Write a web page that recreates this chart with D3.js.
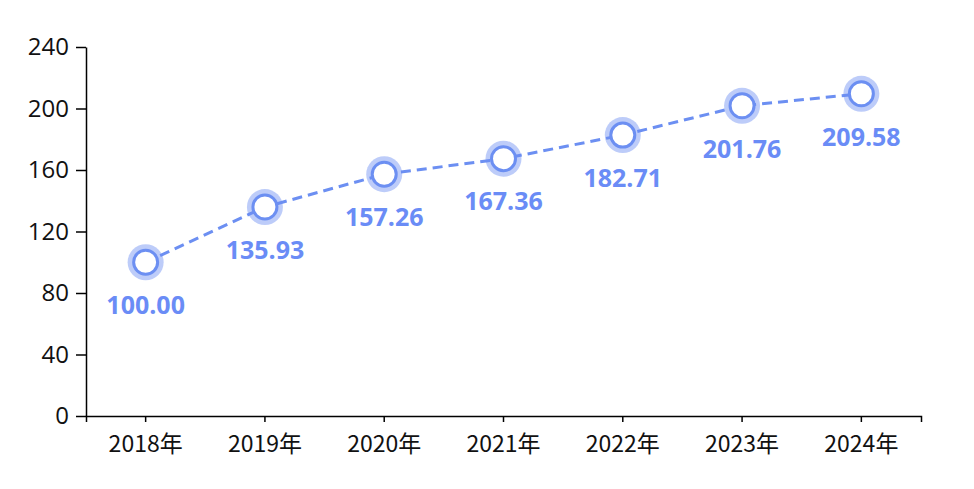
<!DOCTYPE html>
<html>
<head>
<meta charset="utf-8">
<script src="https://cdn.jsdelivr.net/npm/d3@7"></script>
<style>
  body { margin: 0; background: #fff; }
  text { font-family: "Noto Sans CJK SC", "Noto Sans", sans-serif; }
</style>
</head>
<body>
<svg width="974" height="489"></svg>
<script>
const years = ['2018年', '2019年', '2020年', '2021年', '2022年', '2023年', '2024年'];
const values = [100.00, 135.93, 157.26, 167.36, 182.71, 201.76, 209.58];
const yTicks = [0, 40, 80, 120, 160, 200, 240];

const svg = d3.select('svg');
const mLeft = 86, mRight = 921, mTop = 47, mBottom = 416;
const blue = '#6c8ff2';

const x = d3.scaleBand().domain(years).range([mLeft, mRight]);
const y = d3.scaleLinear().domain([0, 240]).range([mBottom, mTop]);
const cx = d => x(d) + x.bandwidth() / 2;

// y axis
const yAxis = svg.append('g')
  .attr('transform', `translate(${mLeft},0)`)
  .call(d3.axisLeft(y).tickValues(yTicks).tickSize(10).tickSizeOuter(0).tickPadding(7));
yAxis.select('.domain').attr('stroke', '#000').attr('stroke-width', 1.5);
yAxis.selectAll('.tick line').attr('stroke', '#000').attr('stroke-width', 1.5);
yAxis.selectAll('text').attr('font-size', 24).attr('fill', '#111')
  .style('font-family', '"Open Sans", "Noto Sans", sans-serif');

// x axis
const xAxis = svg.append('g')
  .attr('transform', `translate(0,${mBottom})`)
  .call(d3.axisBottom(x).tickSize(6).tickSizeOuter(6).tickPadding(14));
xAxis.select('.domain').attr('stroke', '#000').attr('stroke-width', 1.5);
xAxis.selectAll('.tick line').attr('stroke', '#000').attr('stroke-width', 1.5);
xAxis.selectAll('text').attr('font-size', 23).attr('fill', '#111');

// line
const line = d3.line()
  .x((d, i) => cx(years[i]))
  .y(d => y(d));

svg.append('path')
  .datum(values)
  .attr('d', line)
  .attr('fill', 'none')
  .attr('stroke', blue)
  .attr('stroke-width', 3)
  .attr('stroke-dasharray', '10,6');

const pts = svg.selectAll('g.pt').data(values).enter().append('g')
  .attr('class', 'pt')
  .attr('transform', (d, i) => `translate(${cx(years[i])},${y(d)})`);

pts.append('circle')
  .attr('r', 18)
  .attr('fill', blue)
  .attr('fill-opacity', 0.45);

pts.append('circle')
  .attr('r', 12)
  .attr('fill', '#fff')
  .attr('stroke', blue)
  .attr('stroke-width', 3);

pts.append('text')
  .attr('y', 43)
  .attr('dy', '0.35em')
  .attr('text-anchor', 'middle')
  .attr('font-size', 25)
  .attr('font-weight', 'bold')
  .attr('fill', '#6a8cf6')
  .style('font-family', '"Open Sans", "Noto Sans", sans-serif')
  .text(d => d.toFixed(2));
</script>
</body>
</html>
